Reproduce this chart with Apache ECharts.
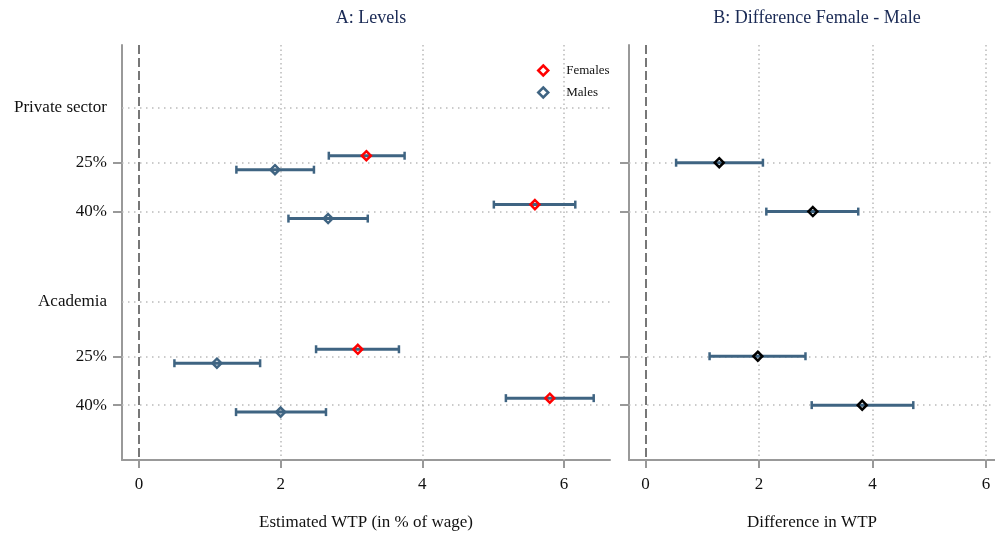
<!DOCTYPE html>
<html>
<head>
<meta charset="utf-8">
<script src="https://cdn.jsdelivr.net/npm/echarts@6/dist/echarts.min.js"></script>
<style>
  html, body { margin: 0; padding: 0; background: #fff; }
  #chart { width: 995px; height: 536px; }
</style>
</head>
<body>
<div id="chart"></div>
<script>
// data
const groups = ['Private sector', 'Academia']
const shares = ['25%', '40%']
const femaleEst = [3.21, 5.59, 3.09, 5.80]
const femaleLo = [2.68, 5.01, 2.50, 5.18]
const femaleHi = [3.75, 6.16, 3.67, 6.42]
const maleEst = [1.92, 2.67, 1.10, 2.00]
const maleLo = [1.375, 2.11, 0.50, 1.37]
const maleHi = [2.47, 3.23, 1.71, 2.64]
const diffEst = [1.30, 2.95, 1.98, 3.82]
const diffLo = [0.54, 2.13, 1.13, 2.93]
const diffHi = [2.07, 3.75, 2.82, 4.72]
const xTicks = [0, 2, 4, 6]

// layout of the rows on the vertical axis (0 = top of plot)
const headerPos = [63, 257]
const rowPos = [118, 167, 312, 361]
const pairShift = 7

const font = 'Liberation Serif'
const barColor = '#3f6482'
const axisGray = '#999'

// label for every row position
const rowLabel = {}
headerPos.forEach((p, i) => { rowLabel[p] = groups[i] })
rowPos.forEach((p, i) => { rowLabel[p] = shares[i % 2] })

function renderBar(params, api) {
  const y = api.value(2)
  const a = api.coord([api.value(0), y])
  const b = api.coord([api.value(1), y])
  const h = 4
  return {
    type: 'group',
    children: [
      { type: 'line', shape: { x1: a[0], y1: a[1], x2: b[0], y2: b[1] }, style: { stroke: barColor, lineWidth: 3 } },
      { type: 'line', shape: { x1: a[0], y1: a[1] - h, x2: a[0], y2: a[1] + h }, style: { stroke: barColor, lineWidth: 2.5 } },
      { type: 'line', shape: { x1: b[0], y1: b[1] - h, x2: b[0], y2: b[1] + h }, style: { stroke: barColor, lineWidth: 2.5 } }
    ]
  }
}

// dotted grid + dashed zero line, kept on an empty series underneath the bars
function gridSeries(idx, rows) {
  const dotH = { color: '#bbb', width: 1.5, type: [1.5, 4.5] }
  const dotV = { color: '#bbb', width: 1.5, type: [1.5, 3] }
  const data = []
  xTicks.forEach(t => {
    if (t === 0) {
      data.push({ xAxis: t, lineStyle: { color: '#777', width: 2, type: [9, 4] } })
    } else {
      data.push({ xAxis: t, lineStyle: dotV })
    }
  })
  rows.forEach(r => data.push({ yAxis: r, lineStyle: dotH }))
  return {
    type: 'line', xAxisIndex: idx, yAxisIndex: idx, data: [], z: 1,
    markLine: { silent: true, z: 1, symbol: 'none', label: { show: false }, animation: false, data: data }
  }
}

function xAxisCfg(idx, min, max, name) {
  return {
    type: 'value', gridIndex: idx, min: min, max: max, position: 'bottom',
    name: name, nameLocation: 'middle', nameGap: 54,
    nameTextStyle: { fontFamily: font, fontSize: 17, color: '#111' },
    axisLine: { show: true, onZero: false, lineStyle: { color: axisGray, width: 2 } },
    axisTick: { show: true, length: 8, customValues: xTicks, lineStyle: { color: axisGray, width: 2 } },
    axisLabel: { customValues: xTicks, margin: 16, fontFamily: font, fontSize: 17, color: '#111' },
    splitLine: { show: false }
  }
}

function yAxisCfg(idx, showLabels) {
  return {
    type: 'value', gridIndex: idx, min: 0, max: 416, inverse: true,
    axisLine: { show: true, onZero: false, lineStyle: { color: axisGray, width: 2 } },
    axisTick: { show: true, length: 9, customValues: rowPos, lineStyle: { color: axisGray, width: 2 } },
    axisLabel: {
      show: showLabels,
      customValues: headerPos.concat(rowPos),
      margin: 15, fontFamily: font, fontSize: 17, color: '#111',
      formatter: v => rowLabel[v] || ''
    },
    splitLine: { show: false }
  }
}

const markerBase = { type: 'scatter', symbol: 'diamond', symbolSize: 9, z: 5 }

const chart = echarts.init(document.getElementById('chart'))
chart.setOption({
  animation: false,
  textStyle: { fontFamily: font },
  title: [
    { text: 'A: Levels', left: 366, top: 4, textAlign: 'center', textStyle: { fontFamily: font, fontSize: 18, fontWeight: 'normal', color: '#1a2a55' } },
    { text: 'B: Difference Female - Male', left: 812, top: 4, textAlign: 'center', textStyle: { fontFamily: font, fontSize: 18, fontWeight: 'normal', color: '#1a2a55' } }
  ],
  legend: {
    orient: 'vertical', left: 537, top: 64, padding: 0,
    itemWidth: 10, itemHeight: 10, itemGap: 9,
    textStyle: { fontFamily: font, fontSize: 13, color: '#111', padding: [0, 0, 0, 13] },
    data: [
      { name: 'Females', icon: 'diamond', itemStyle: { color: '#fff', borderColor: '#ff0000', borderWidth: 2.5, opacity: 1 } },
      { name: 'Males', icon: 'diamond', itemStyle: { color: '#fff', borderColor: barColor, borderWidth: 2.5, opacity: 1 } }
    ]
  },
  grid: [
    { left: 122, top: 45, width: 488, height: 416 },
    { left: 629, top: 45, width: 366, height: 416 }
  ],
  xAxis: [
    xAxisCfg(0, -0.24, 6.65, 'Estimated WTP (in % of wage)'),
    xAxisCfg(1, -0.29, 6.16, 'Difference in WTP')
  ],
  yAxis: [yAxisCfg(0, true), yAxisCfg(1, false)],
  series: [
    gridSeries(0, headerPos.concat(rowPos)),
    gridSeries(1, rowPos),
    {
      type: 'custom', name: 'ciA', xAxisIndex: 0, yAxisIndex: 0, renderItem: renderBar,
      encode: { x: [0, 1], y: 2 },
      data: femaleLo.map((v, i) => [v, femaleHi[i], rowPos[i] - pairShift])
        .concat(maleLo.map((v, i) => [v, maleHi[i], rowPos[i] + pairShift])),
      z: 3
    },
    {
      type: 'custom', name: 'ciB', xAxisIndex: 1, yAxisIndex: 1, renderItem: renderBar,
      encode: { x: [0, 1], y: 2 },
      data: diffLo.map((v, i) => [v, diffHi[i], rowPos[i]]),
      z: 3
    },
    Object.assign({}, markerBase, {
      name: 'Females', xAxisIndex: 0, yAxisIndex: 0,
      itemStyle: { color: 'rgba(255,255,255,0)', borderColor: '#ff0000', borderWidth: 2.5, opacity: 1 },
      data: femaleEst.map((v, i) => [v, rowPos[i] - pairShift])
    }),
    Object.assign({}, markerBase, {
      name: 'Males', xAxisIndex: 0, yAxisIndex: 0,
      itemStyle: { color: 'rgba(255,255,255,0)', borderColor: barColor, borderWidth: 2.5, opacity: 1 },
      data: maleEst.map((v, i) => [v, rowPos[i] + pairShift])
    }),
    Object.assign({}, markerBase, {
      name: 'Difference', xAxisIndex: 1, yAxisIndex: 1,
      itemStyle: { color: 'rgba(255,255,255,0)', borderColor: '#000', borderWidth: 2.5, opacity: 1 },
      data: diffEst.map((v, i) => [v, rowPos[i]])
    })
  ]
})
</script>
</body>
</html>
